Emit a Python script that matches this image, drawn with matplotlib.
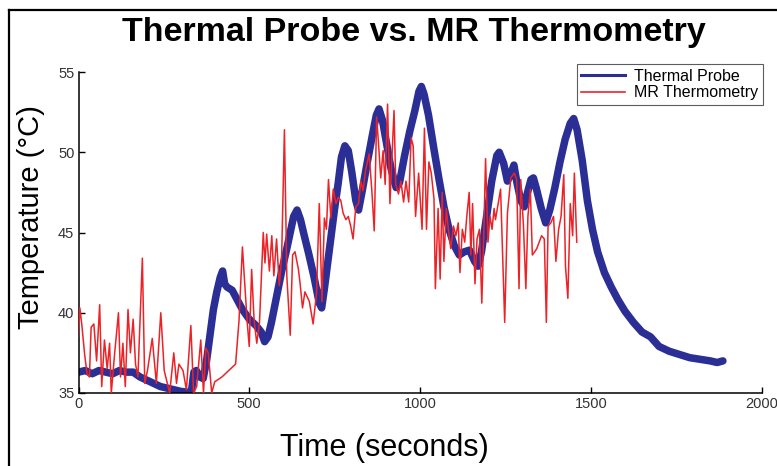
import matplotlib
matplotlib.use("Agg")
import matplotlib.pyplot as plt
from matplotlib.lines import Line2D

plt.rcParams["font.family"] = ["Liberation Sans", "DejaVu Sans"]

# Thermal probe (s, degC)
probe_time = [0, 20, 40, 60, 80, 100, 120, 140, 160, 180, 200, 220, 240, 260, 280,
              300, 320, 330, 338, 345, 355, 365, 375, 385, 395, 405, 415, 422, 428,
              435, 450, 465, 480, 500, 520, 535, 545, 555, 565, 580, 595, 610, 620,
              630, 640, 650, 660, 675, 690, 705, 712, 720, 735, 750, 760, 770, 780,
              790, 800, 812, 820, 830, 845, 860, 872, 880, 890, 900, 915, 930, 940,
              955, 970, 985, 997, 1004, 1012, 1025, 1040, 1055, 1070, 1085, 1100,
              1115, 1130, 1145, 1160, 1170, 1180, 1195, 1210, 1225, 1232, 1245, 1256,
              1265, 1275, 1283, 1295, 1305, 1315, 1325, 1332, 1340, 1355, 1368, 1380,
              1395, 1410, 1425, 1440, 1450, 1460, 1475, 1490, 1505, 1520, 1540, 1560,
              1580, 1600, 1625, 1650, 1675, 1700, 1730, 1760, 1790, 1820, 1850, 1870,
              1887]
probe_temp = [36.3, 36.4, 36.2, 36.4, 36.3, 36.2, 36.4, 36.3, 36.3, 36.0, 35.8, 35.6,
              35.4, 35.3, 35.2, 35.1, 35.05, 35.0, 36.3, 36.4, 36.0, 35.9, 37.0, 38.6,
              40.2, 41.3, 42.2, 42.6, 41.8, 41.6, 41.4, 40.8, 40.2, 39.6, 39.2, 38.8,
              38.2, 38.5, 39.4, 41.0, 42.6, 44.0, 45.0, 46.0, 46.4, 45.8, 44.9, 43.6,
              42.2, 40.6, 40.3, 41.5, 44.0, 46.5, 48.0, 49.7, 50.4, 50.1, 48.8, 47.0,
              46.4, 47.5, 49.3, 51.0, 52.3, 52.7, 52.0, 50.8, 49.0, 47.8, 48.1, 49.8,
              51.3, 52.6, 53.8, 54.1, 53.6, 52.3, 50.3, 48.4, 46.6, 45.2, 44.2, 43.6,
              43.8, 43.9, 43.2, 42.9, 43.8, 46.0, 48.2, 49.8, 50.0, 49.3, 48.2, 48.6,
              49.2, 48.2, 47.0, 46.6, 47.5, 48.3, 48.4, 47.8, 46.5, 45.6, 46.4, 47.8,
              49.4, 50.8, 51.8, 52.1, 51.4, 49.5, 47.0, 45.2, 43.8, 42.5, 41.6, 40.8,
              40.1, 39.4, 38.8, 38.5, 37.9, 37.6, 37.4, 37.2, 37.1, 37.0, 36.9, 37.0]

# MR thermometry (s, degC)
mr_time = [0, 4, 10, 18, 25, 32, 37, 45, 53, 62, 68, 76, 84, 91, 96, 106, 117, 123,
           130, 137, 145, 152, 160, 167, 174, 187, 194, 202, 216, 228, 241, 251, 267,
           279, 287, 294, 306, 316, 329, 337, 346, 358, 366, 373, 380, 390, 399, 420,
           440, 460, 470, 480, 494, 500, 507, 514, 522, 530, 541, 546, 551, 559, 566,
           572, 580, 588, 595, 603, 610, 620, 627, 634, 644, 649, 656, 663, 676, 687,
           697, 705, 713, 720, 726, 732, 739, 746, 754, 761, 768, 775, 783, 790, 797,
           804, 812, 820, 827, 833, 841, 851, 859, 866, 873, 878, 885, 892, 898, 905,
           912, 917, 924, 929, 937, 944, 952, 959, 967, 974, 980, 987, 996, 1006,
           1013, 1019, 1026, 1033, 1041, 1045, 1053, 1059, 1065, 1070, 1077, 1083,
           1090, 1098, 1105, 1112, 1117, 1124, 1131, 1137, 1144, 1149, 1154, 1161,
           1167, 1174, 1181, 1187, 1192, 1199, 1205, 1211, 1217, 1221, 1228, 1236,
           1248, 1256, 1266, 1276, 1283, 1290, 1295, 1303, 1310, 1316, 1323, 1329,
           1336, 1342, 1349, 1356, 1364, 1370, 1375, 1383, 1391, 1398, 1406, 1413,
           1421, 1426, 1433, 1440, 1447, 1452, 1459]
mr_temp = [38.5, 40.3, 39.2, 37.4, 36.2, 36.0, 39.1, 39.3, 37.0, 40.5, 35.4, 38.3,
           36.5, 38.1, 35.0, 37.5, 40.0, 36.0, 38.1, 35.4, 40.2, 37.5, 39.6, 36.8,
           36.0, 43.4, 35.6, 36.4, 38.4, 35.6, 40.0, 36.4, 35.0, 37.5, 35.6, 36.8,
           36.4, 35.2, 39.2, 35.0, 35.4, 38.3, 35.0, 37.8, 37.5, 35.0, 35.7, 36.0,
           36.4, 36.8, 39.5, 44.1, 39.4, 37.9, 42.7, 39.6, 38.1, 39.4, 45.0, 43.1,
           44.9, 42.6, 44.8, 42.3, 44.6, 41.7, 43.6, 51.4, 42.3, 38.6, 43.6, 43.8,
           42.7, 41.8, 40.3, 41.3, 40.7, 39.3, 41.2, 46.8, 40.7, 45.9, 45.2, 48.3,
           45.9, 47.7, 46.8, 47.2, 47.0, 46.2, 45.8, 46.0, 45.4, 44.6, 46.6, 46.8,
           48.2, 47.6, 48.9, 49.9, 47.6, 45.1, 52.2, 50.7, 48.4, 50.1, 48.0, 53.0,
           46.8, 49.3, 52.6, 48.0, 47.4, 48.2, 46.9, 48.2, 46.9, 50.9, 50.4, 46.0,
           48.7, 45.2, 51.5, 45.2, 49.4, 48.7, 47.1, 41.5, 46.5, 42.1, 47.5, 43.2,
           46.5, 45.2, 44.0, 45.4, 44.8, 45.6, 42.5, 45.2, 44.4, 46.0, 47.5, 43.6,
           46.8, 41.8, 44.6, 45.2, 40.6, 45.2, 49.6, 44.4, 46.0, 45.2, 46.5, 45.8,
           46.7, 47.7, 39.4, 46.2, 48.4, 48.7, 48.3, 41.5, 48.3, 45.4, 41.5, 46.0,
           47.7, 43.6, 43.8, 44.0, 44.4, 44.8, 44.6, 39.4, 45.4, 45.6, 46.0, 43.2,
           45.2, 46.0, 48.6, 42.9, 40.9, 46.8, 44.8, 48.7, 44.4]

x_ticks = [0, 500, 1000, 1500, 2000]
y_ticks = [35, 40, 45, 50, 55]

W, H = 777, 466
fig = plt.figure(figsize=(W / 100, H / 100), dpi=100)
ax = fig.add_axes([78.5 / W, 1 - 393 / H, 683 / W, 321 / H])

ax.plot(probe_time, probe_temp, color="#2B2E95", linewidth=5.4,
        solid_joinstyle="round", solid_capstyle="round",
        label="Thermal Probe", zorder=2)
ax.plot(mr_time, mr_temp, color="#EC2227", linewidth=1.1,
        label="MR Thermometry", zorder=3)

ax.set_xlim(0, 2000)
ax.set_ylim(35, 55)
ax.set_xticks(x_ticks)
ax.set_yticks(y_ticks)
ax.spines["top"].set_visible(False)
ax.spines["right"].set_visible(False)
for s in ("left", "bottom"):
    ax.spines[s].set_linewidth(1.1)
ax.tick_params(direction="in", length=4, width=1.0, labelsize=10.5,
               labelcolor="#333333", pad=3)
for lab in ax.get_xticklabels() + ax.get_yticklabels():
    lab.set_clip_on(False)

# axis labels sit off-centre in the (cropped) original
ax.set_xlabel("Time (seconds)", fontsize=22)
ax.xaxis.set_label_coords((384 - 78.5) / 683, (393 - 448) / 321)
ax.xaxis.label.set_va("center")
ax.set_ylabel("Temperature (\u00b0C)", fontsize=21)
ax.yaxis.set_label_coords((31 - 78.5) / 683, (393 - 217) / 321)
ax.yaxis.label.set_va("center")

fig.text(414 / W, 1 - 33 / H, "Thermal Probe vs. MR Thermometry",
         ha="center", va="center", fontsize=24.5, fontweight="bold")

handles = [Line2D([], [], color="#2B2E95", linewidth=2.2),
           Line2D([], [], color="#EC2227", linewidth=1.2)]
leg = fig.legend(handles, ["Thermal Probe", "MR Thermometry"],
                 loc="upper right", bbox_to_anchor=(763 / W, 1 - 64 / H),
                 fontsize=11.5, frameon=True, fancybox=False, borderpad=0.3,
                 handlelength=2.7, handletextpad=0.6, labelspacing=0.1,
                 borderaxespad=0)
leg.get_frame().set_edgecolor("#333333")
leg.get_frame().set_linewidth(0.8)

# black frame, cut off at right and bottom
fig.add_artist(Line2D([8.5 / W, 8.5 / W], [0, 1 - 10 / H],
                      color="black", linewidth=1.6, transform=fig.transFigure))
fig.add_artist(Line2D([8.5 / W, 1], [1 - 10 / H, 1 - 10 / H],
                      color="black", linewidth=1.6, transform=fig.transFigure))

fig.savefig("out.png", dpi=100)
